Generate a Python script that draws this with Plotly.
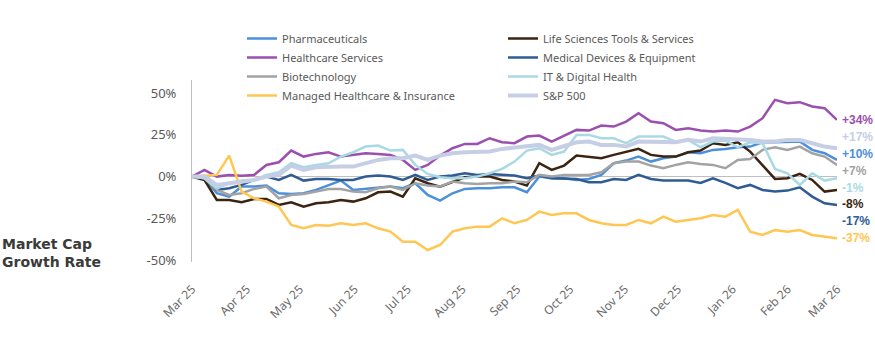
import pandas as pd
import plotly.graph_objects as go

# ---- data (percent growth vs. start) ----
dates = [d.strftime("%Y-%m-%d %H:%M:%S") for d in pd.date_range(start="2025-03-01", end="2026-03-01", periods=53)]
month_ticks = [d.strftime("%Y-%m-%d") for d in pd.date_range("2025-03-01", "2026-03-01", freq="MS")]
month_labels = [pd.Timestamp(d).strftime("%b %y") for d in month_ticks]

pharma = [0, -1, -10, -12, -6, -6, -5.4, -10, -10.4, -10, -8, -5, -2.4, -8, -7.4, -6.4, -6, -7, -4, -11, -14.4, -10,
          -7.4, -7, -7, -6.4, -6.4, -9.4, 0, -1, -1, -2, -1.4, 1, 8, 9.6, 12, 9, 11, 12, 14.6, 14, 16,
          16.6, 17.6, 18, 20.6, 20.6, 20.6, 21, 16, 14, 10]
life_sci = [0, -2, -14, -14, -15.4, -13.4, -13.4, -17, -15.4, -18, -16, -15.4, -14, -15, -13, -9.4, -9, -12, -1, -4, -6, -3,
            -0.4, 0, 0, -2, -3, -5.4, 8, 4, 6.6, 12.6, 12, 11, 13, 14.6, 16.6, 13, 12, 12, 14.6, 15.6, 20,
            19, 20.6, 15, 6.6, -1.4, -1, 1.6, -2, -9, -8]
health_svc = [0, 4, 0, 1, 0.5, 1, 7, 8.6, 15.6, 12, 13.6, 14.6, 12, 13, 14, 13.6, 13, 10, 4, 7, 12.6, 17,
              19.6, 19.6, 23, 20.6, 20, 24, 24.6, 21, 24.6, 28, 27.6, 30.6, 30, 33, 38, 33, 32, 28, 29, 27.6, 27,
              27.6, 27, 30, 35, 46, 44, 44.6, 42, 41, 34]
med_dev = [0, -1, -8, -7, -5, -2, 0, -2, 1, -2.4, -1.4, -1.4, -2, -2, 0, 0.6, 0, -2, 1, -2, 0, 0.6,
           2, 1, 1.6, 1, 0.6, -1, 0.6, -1, -1, -1.4, -3.4, -3.4, -1.4, -2, 1, -1.4, -2.4, -2.4, -2.4, -3.8, -1,
           -3.8, -7, -5, -8, -9, -8.4, -6.4, -12, -16, -17]
biotech = [0, -1, -8, -11, -10, -7.4, -6, -13, -11, -10.4, -9, -7.4, -7.4, -9, -9.4, -7, -6, -8, -4, -5.4, -6, -3,
           -4, -4.4, -4, -4, -3, -3.4, 1, 0, 1, 1, 1, 2.6, 8, 9, 9, 6.6, 5, 7, 8.6, 7.6, 7,
           5, 10, 10.6, 16, 17.6, 16, 18, 14, 12, 7]
it_health = [0, -1, -7, -4, -2.4, -2, 1, 2.6, 8, 5.6, 7, 8, 12, 14.6, 18, 18.6, 15.6, 16, 7, 1.6, -0.4, -1,
             -1, 0, 2, 4.6, 9, 15.6, 17, 13, 15, 25, 25, 23, 23, 20, 24, 24, 24, 21, 22, 17.6, 21,
             21.6, 17.6, 20.6, 20, 4.6, 2, -5, 2, -2.4, -1]
managed = [0, 0.5, 1, 12.6, -9, -13, -15, -18, -29, -31, -29, -29.4, -28, -29, -28, -31, -33, -39, -39, -44, -41, -33,
           -31, -30, -30, -25, -28, -26, -21, -23, -22, -22, -26, -28, -29, -29, -26, -28, -24, -27, -26, -25, -23,
           -24, -20, -33, -35, -32, -33, -32, -35, -36, -37]
sp500 = [0, 0, -5, -4, -3.4, -2, 0, 1, 6.6, 4, 5.6, 6, 6, 6, 8, 10, 11, 11, 12.6, 10, 12.6, 14,
         14.6, 14.6, 15, 16.6, 17.6, 18, 19, 16, 18, 20.6, 21, 19, 19, 18, 21, 21, 21, 20.6, 22, 21, 23,
         22.6, 22.6, 22, 21, 21, 22, 22, 20, 18, 17]

series = [
    ("Pharmaceuticals", pharma, "#4C8FDB", 2.5, "legend"),
    ("Life Sciences Tools & Services", life_sci, "#3B2411", 2.5, "legend2"),
    ("Healthcare Services", health_svc, "#9B4FAE", 2.5, "legend"),
    ("Medical Devices & Equipment", med_dev, "#2E5C93", 2.5, "legend2"),
    ("Biotechnology", biotech, "#A3A3A3", 2.5, "legend"),
    ("IT & Digital Health", it_health, "#A9DAE3", 2.5, "legend2"),
    ("Managed Healthcare & Insurance", managed, "#FFC652", 2.5, "legend"),
    ("S&P 500", sp500, "#C6CEE6", 4, "legend2"),
]

fig = go.Figure()
for name, vals, color, width, leg in series:
    fig.add_trace(go.Scatter(x=dates, y=vals, name=name, mode="lines",
                             line=dict(color=color, width=width), legend=leg))

# end labels, spread evenly between the highest and lowest final values
ends = sorted([(vals[-1], color) for _, vals, color, _, _ in series], key=lambda t: -t[0])
top, bot = ends[0][0], ends[-1][0]
step = (top - bot) / (len(ends) - 1)
for i, (v, color) in enumerate(ends):
    txt = ("+" if v > 0 else "") + f"{v:.0f}%"
    fig.add_annotation(x=1.0, xref="paper", xshift=3, xanchor="left",
                       y=top - i * step, yref="y", yanchor="middle",
                       text=f"<b>{txt}</b>", showarrow=False,
                       font=dict(family="Liberation Sans", size=12, color=color))

fig.add_annotation(x=-192 / 645, xref="paper", xanchor="left", y=0.05, yref="paper", yanchor="middle",
                   text="<b>Market Cap<br>Growth Rate</b>", align="left", showarrow=False,
                   font=dict(family="DejaVu Sans", size=14, color="#3A3A3A"))

leg_font = dict(family="Noto Sans", size=11, color="#595959")
fig.update_layout(
    width=875, height=343,
    margin=dict(l=192, r=38, t=80, b=81, autoexpand=False),
    paper_bgcolor="white", plot_bgcolor="white",
    showlegend=True,
    legend=dict(xref="container", yref="container", x=242 / 875, y=1 - 24 / 343,
                xanchor="left", yanchor="top", font=leg_font, bgcolor="rgba(0,0,0,0)",
                tracegroupgap=0, itemwidth=30),
    legend2=dict(xref="container", yref="container", x=503 / 875, y=1 - 24 / 343,
                 xanchor="left", yanchor="top", font=leg_font, bgcolor="rgba(0,0,0,0)",
                 tracegroupgap=0, itemwidth=30),
    xaxis=dict(type="date", range=[dates[0], dates[-1]], tickvals=month_ticks, ticktext=month_labels,
               tickangle=-45, showgrid=False, showline=False, zeroline=False, ticks="",
               ticklabelstandoff=17, automargin=False,
               tickfont=dict(family="Noto Sans", size=12, color="#6B6B6B")),
    yaxis=dict(range=[-51.2, 57.9], tickvals=[-50, -25, 0, 25, 50],
               ticktext=["-50%", "-25%", "0%", "25%", "50%"],
               showgrid=False, showline=True, linecolor="#BFBFBF", linewidth=1,
               zeroline=True, zerolinecolor="#BFBFBF", zerolinewidth=1, ticks="",
               ticklabelstandoff=12, automargin=False,
               tickfont=dict(family="Noto Sans", size=13, color="#595959")),
)

fig.write_html("out.html")
